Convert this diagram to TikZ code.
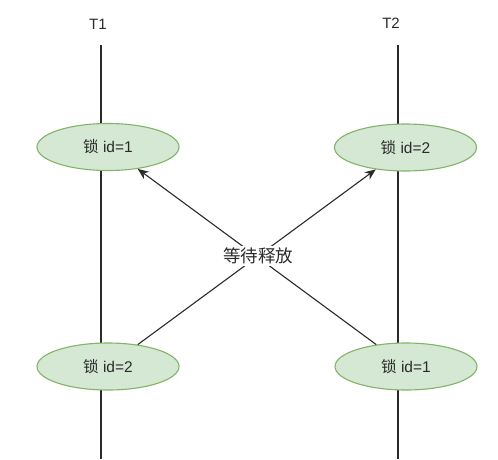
\documentclass[tikz,border=0pt]{standalone}
\usepackage{fontspec}
\setmainfont{Liberation Sans}
\newfontfamily\cjk{Noto Sans CJK SC}
\usetikzlibrary{shapes.geometric,arrows.meta}
\definecolor{lockfill}{HTML}{D5E8D4}
\definecolor{lockdraw}{HTML}{82B366}
\definecolor{ink}{HTML}{2A2A2A}
\tikzset{
  lock/.style={ellipse, draw=lockdraw, fill=lockfill, line width=1.1pt,
    minimum width=142pt, minimum height=47pt, inner sep=0pt,
    text=ink, font=\fontsize{15.5}{18}\selectfont},
  lifeline/.style={draw=ink, line width=1.1pt},
  waitarrow/.style={draw=ink, line width=1.1pt, -{Stealth[length=11pt,width=9pt]}},
  tlabel/.style={text=ink, font=\fontsize{15}{18}\selectfont, inner sep=1pt},
  midlabel/.style={fill=white, text=ink, font=\cjk\fontsize{17.5}{20}\selectfont, inner sep=2pt}
}
\begin{document}
\begin{tikzpicture}[x=1pt,y=-1pt]
\useasboundingbox (0,0) rectangle (498,459);
\node[tlabel] (t1) at (98,24) {T1};
\node[tlabel] (t2) at (391,23) {T2};
\coordinate (l1top) at (101,45);
\coordinate (l1bot) at (101,459);
\coordinate (l2top) at (398,45);
\coordinate (l2bot) at (398,459);
\draw[lifeline] (l1top) -- (l1bot);
\draw[lifeline] (l2top) -- (l2bot);
\node[lock] (a1) at (108,147) {{\cjk 锁} id=1};
\node[lock] (a2) at (405.5,147.5) {{\cjk 锁} id=2};
\node[lock] (b1) at (108,366.5) {{\cjk 锁} id=2};
\node[lock] (b2) at (406,366.5) {{\cjk 锁} id=1};
\draw[waitarrow] (b2) -- (a1);
\draw[waitarrow] (b1) -- (a2);
\node[midlabel] (wait) at (258,256) {等待释放};
\end{tikzpicture}
\end{document}
